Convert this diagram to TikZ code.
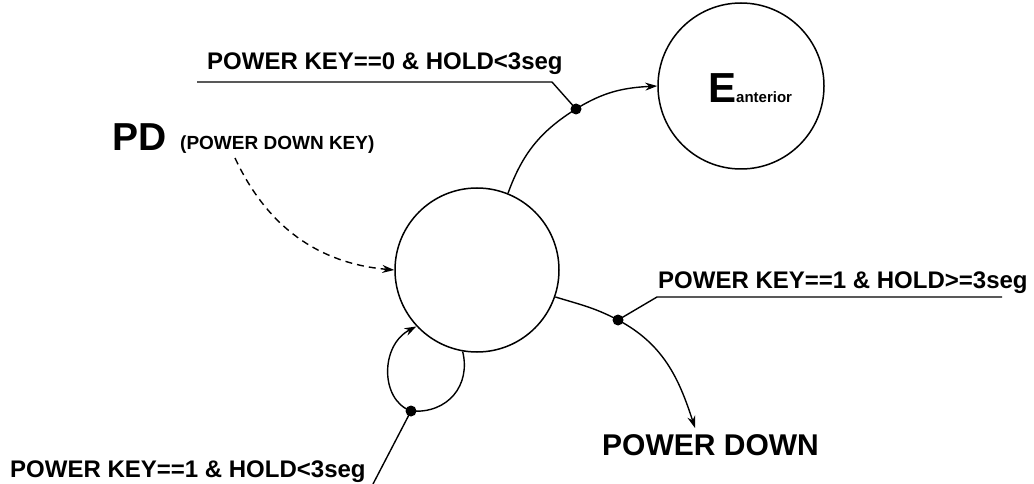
\documentclass[tikz,border=0pt]{standalone}
\usepackage{fontspec}
\setmainfont{Liberation Sans}
\usetikzlibrary{arrows.meta}
\begin{document}
\begin{tikzpicture}[x=1pt,y=1pt,
 state/.style={circle,draw,line width=1.5pt,inner sep=0,minimum size=164pt},
 lbl/.style={anchor=base west,inner sep=0,font=\fontsize{24}{28}\selectfont\bfseries},
 txt/.style={anchor=base west,inner sep=0},
 dot/.style={circle,fill,inner sep=0,minimum size=11pt},
 arr/.style={line width=1.4pt,-{Stealth[length=12pt,width=8pt]}},
 lead/.style={line width=1.4pt}]
\useasboundingbox (0,0) rectangle (1034,-484);
% states
\node[state] (M) at (477,-270) {};
\node[state,minimum size=166pt] (E) at (741,-86) {};
\node[txt] (El) at (708,-103) {\fontsize{42}{44}\selectfont\bfseries E\fontsize{15}{16}\selectfont anterior};
% texts
\node[txt,font=\fontsize{39}{40}\selectfont\bfseries] (PD) at (112,-151) {PD};
\node[txt,font=\fontsize{19}{21}\selectfont\bfseries] (PDK) at (180,-150) {(POWER DOWN KEY)};
\node[txt,font=\fontsize{30}{32}\selectfont\bfseries] (PWD) at (602,-455) {POWER DOWN};
\node[lbl] (t0) at (207,-70) {POWER KEY==0 \& HOLD<3seg};
\node[lbl] (t1) at (658,-288) {POWER KEY==1 \& HOLD>=3seg};
\node[lbl] (t2) at (10,-477) {POWER KEY==1 \& HOLD<3seg};
% dots
\node[dot] (d1) at (576,-109) {};
\node[dot] (d2) at (618,-320) {};
\node[dot] (d3) at (411,-411) {};
% free ends
\coordinate (ds) at (235,-158);
\coordinate (pt) at (695,-428);
\coordinate (a1) at (197,-82);
\coordinate (a2) at (552,-82);
\coordinate (b1) at (657,-297);
\coordinate (b2) at (1002,-297);
\coordinate (c1) at (373,-484);
% transitions
\draw[arr] (M.68) to[out=70,in=212] (d1.center) to[out=32,in=183] (E.west);
\draw[arr] (M.-19) to[out=-17,in=152] (d2.center) to[out=-28,in=108] (pt);
\draw[arr,dash pattern=on 7pt off 5pt] (ds) to[out=-65,in=175] (M.west);
\draw[arr] (M.-100) .. controls (471,-385) and (448,-414) .. (d3.center)
  .. controls (380,-400) and (380,-345) .. (M.-137);
% leaders
\draw[lead] (a1) -- (a2) -- (d1.center);
\draw[lead] (d2.center) -- (b1) -- (b2);
\draw[lead] (d3.center) -- (c1);
\end{tikzpicture}
\end{document}
